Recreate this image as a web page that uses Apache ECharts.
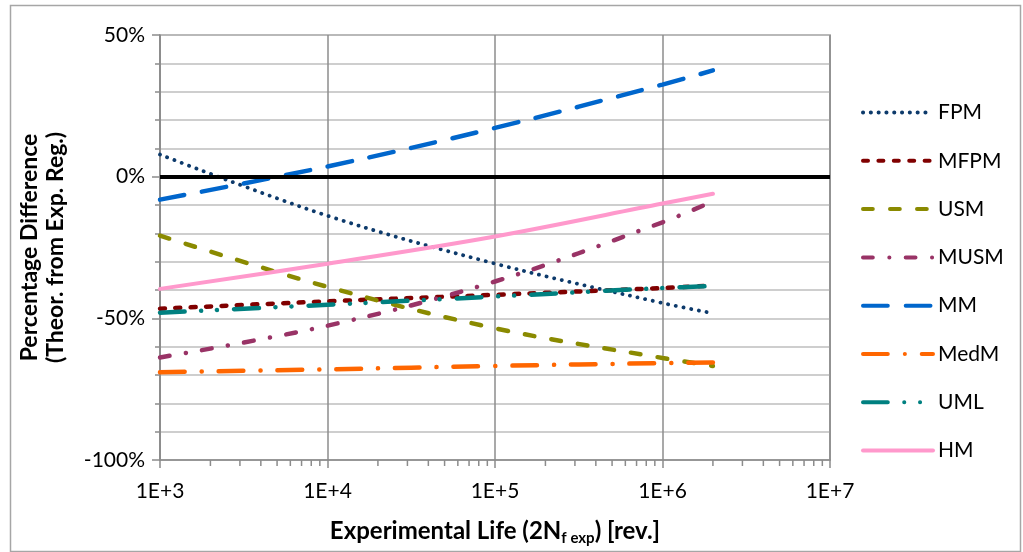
<!DOCTYPE html>
<html>
<head>
<meta charset="utf-8">
<script src="https://cdn.jsdelivr.net/npm/echarts@6/dist/echarts.min.js"></script>
<style>html,body{margin:0;padding:0;background:#fff;}#chart{width:1023px;height:552px;}</style>
</head>
<body>
<div id="chart"></div>
<script>
// Data (percent difference vs experimental life)
const xLife = [1e3, 1e4, 1e5, 1e6, 2e6];
const seriesNames = ['FPM', 'MFPM', 'USM', 'MUSM', 'MM', 'MedM', 'UML', 'HM'];
const FPM  = [7.8, -13.8, -30.7, -44.6, -48.2];
const MFPM = [-46.6, -44.0, -41.7, -39.3, -38.4];
const USM  = [-20.8, -38.9, -53.5, -64.0, -66.8];
const MUSM = [-63.8, -52.6, -37.0, -16.1, -8.7];
const MM   = [-8.1, 3.6, 17.2, 32.5, 37.5];
const MedM = [-69.0, -68.0, -66.8, -65.8, -65.6];
const UML  = [-48.0, -45.2, -42.3, -39.3, -38.6];
const HM   = [-39.6, -30.7, -21.1, -9.5, -6.0];
const yTicks = [-100, -50, 0, 50];
const xTicks = ['1E+3', '1E+4', '1E+5', '1E+6', '1E+7'];
const decades = [1e3, 1e4, 1e5, 1e6];
const minorMult = [2, 3, 4, 5, 6, 7, 8, 9];

const yMin = yTicks[0], yMax = yTicks[yTicks.length - 1];
const minorTickData = [];
decades.forEach(d => minorMult.forEach(m => minorTickData.push([d * m, yMin])));

const styles = {
  FPM:  {color: '#0d3a6b', type: [0.1, 7.7], width: 3.8},
  MFPM: {color: '#800000', type: [5, 10.4], width: 4.5},
  USM:  {color: '#8a8a00', type: [9.8, 17.2], width: 4.5},
  MUSM: {color: '#993366', type: [9.8, 16.5, 0.1, 16.3], width: 4.5},
  MM:   {color: '#0066cc', type: [24.8, 17.9], width: 4.5},
  MedM: {color: '#ff6600', type: [24.8, 17, 0.1, 16.8], width: 4.5},
  UML:  {color: '#008080', type: [24.8, 16.4, 0.1, 15.7, 0.1, 17.2], width: 4.5},
  HM:   {color: '#ff99cc', type: 'solid', width: 4}
};
const dataMap = {FPM, MFPM, USM, MUSM, MM, MedM, UML, HM};

const font = 'Lato, "Open Sans", sans-serif';
const gridGray = '#bfbfbf';
const axisGray = '#8c8c8c';

const lineSeries = seriesNames.map(n => ({
  name: n,
  type: 'line',
  data: xLife.map((x, i) => [x, dataMap[n][i]]),
  smooth: 0.35,
  symbol: 'none',
  z: 3,
  color: styles[n].color,
  lineStyle: {color: styles[n].color, width: styles[n].width, type: styles[n].type, cap: 'round'}
}));

const chart = echarts.init(document.getElementById('chart'));
chart.setOption({
  animation: false,
  textStyle: {fontFamily: font},
  graphic: [{
    type: 'rect', left: 8, top: 3, z: -10,
    shape: {width: 1010, height: 546},
    style: {fill: 'none', stroke: '#a6a6a6', lineWidth: 1.5}
  }],
  grid: {left: 160, right: 193, top: 35, bottom: 92, show: true, borderColor: axisGray, borderWidth: 1.5},
  legend: {
    data: seriesNames,
    orient: 'vertical',
    left: 856, top: 97,
    itemWidth: 70, itemHeight: 21, itemGap: 27.3,
    itemStyle: {opacity: 0},
    lineStyle: {width: 4, cap: 'round'},
    textStyle: {fontFamily: font, fontSize: 21, color: '#000', lineHeight: 21}
  },
  xAxis: {
    type: 'log', logBase: 10, min: 1e3, max: 1e7,
    axisLine: {show: true, onZero: false, lineStyle: {color: axisGray, width: 1.5}},
    axisTick: {show: true, length: 8, lineStyle: {color: axisGray, width: 1.5}},
    splitLine: {show: true, lineStyle: {color: axisGray, width: 1.5}},
    axisLabel: {
      fontFamily: font, fontSize: 21, color: '#000', margin: 21,
      formatter: v => xTicks[Math.round(Math.log10(v)) - 3]
    },
    name: '{n|Experimental Life (2N}{s|f exp}{n|) [rev.]}',
    nameLocation: 'middle', nameGap: 56,
    nameTextStyle: {
      rich: {
        n: {fontFamily: font, fontSize: 24, fontWeight: 'bold', color: '#000', lineHeight: 30, verticalAlign: 'middle'},
        s: {fontFamily: font, fontSize: 15, fontWeight: 'bold', color: '#000', lineHeight: 17, verticalAlign: 'bottom'}
      }
    }
  },
  yAxis: {
    type: 'value', min: yMin, max: yMax, interval: 50,
    axisLine: {show: true, lineStyle: {color: axisGray, width: 1.5}},
    axisTick: {show: true, length: 8, lineStyle: {color: axisGray, width: 1.5}},
    minorTick: {show: true, splitNumber: 5, length: 5, lineStyle: {color: axisGray, width: 1.5}},
    splitLine: {show: true, lineStyle: {color: gridGray, width: 1.5}},
    minorSplitLine: {show: true, lineStyle: {color: gridGray, width: 1.5}},
    axisLabel: {fontFamily: font, fontSize: 21, color: '#000', margin: 15, formatter: v => v + '%'},
    name: 'Percentage Difference\n(Theor. from Exp. Reg.)',
    nameLocation: 'middle', nameRotate: 90, nameGap: 91,
    nameTextStyle: {fontFamily: font, fontSize: 23, fontWeight: 'bold', color: '#000', lineHeight: 26}
  },
  series: [
    {
      name: 'zero', type: 'line', data: [], z: 2, symbol: 'none',
      markLine: {
        silent: true, symbol: 'none', label: {show: false},
        lineStyle: {color: '#000', width: 4, type: 'solid'},
        data: [{yAxis: 0}]
      }
    },
    {
      name: 'minorTicks', type: 'custom', data: minorTickData, clip: false, silent: true, z: 1,
      encode: {x: 0, y: 1},
      renderItem: (params, api) => {
        const p = api.coord([api.value(0), api.value(1)]);
        return {type: 'line', shape: {x1: p[0], y1: p[1], x2: p[0], y2: p[1] + 6},
                style: {stroke: axisGray, lineWidth: 1.5}};
      }
    }
  ].concat(lineSeries)
});
</script>
</body>
</html>
